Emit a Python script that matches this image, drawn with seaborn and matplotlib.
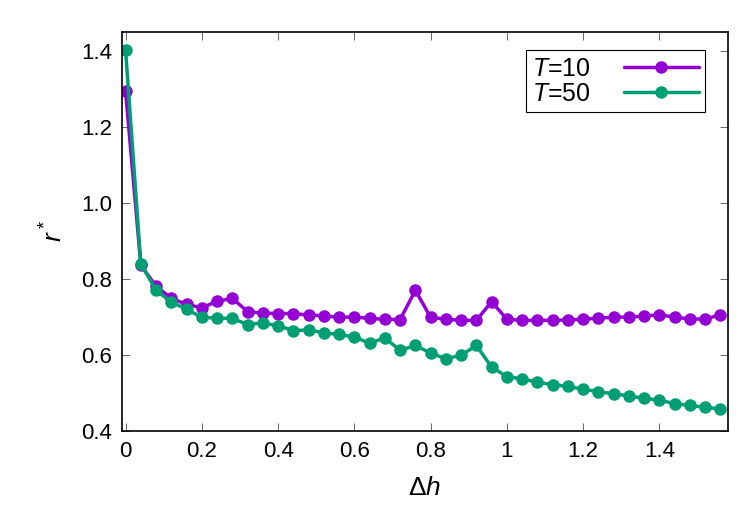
import numpy as np
import pandas as pd
import matplotlib
matplotlib.use("Agg")
import matplotlib.pyplot as plt
import seaborn as sns
from matplotlib.ticker import FuncFormatter

# ---- data ----
dh = [round(0.04 * i, 2) for i in range(40)]

r_T10 = [1.294, 0.836, 0.781, 0.749, 0.733, 0.724, 0.741, 0.749, 0.714, 0.710,
         0.709, 0.709, 0.705, 0.703, 0.699, 0.700, 0.696, 0.694, 0.693, 0.770,
         0.699, 0.694, 0.691, 0.691, 0.740, 0.694, 0.691, 0.691, 0.691, 0.692,
         0.694, 0.697, 0.699, 0.700, 0.702, 0.706, 0.699, 0.695, 0.694, 0.706]

r_T50 = [1.402, 0.840, 0.770, 0.739, 0.720, 0.699, 0.697, 0.696, 0.680, 0.684,
         0.677, 0.664, 0.666, 0.658, 0.654, 0.647, 0.631, 0.645, 0.612, 0.625,
         0.605, 0.590, 0.599, 0.625, 0.568, 0.543, 0.537, 0.528, 0.522, 0.517,
         0.510, 0.503, 0.498, 0.492, 0.486, 0.481, 0.472, 0.467, 0.462, 0.458]

series_names = ["T=10", "T=50"]
series_labels = ["$T$=10", "$T$=50"]
colors = ["#9400D3", "#009E73"]

df = pd.DataFrame({
    "dh": dh + dh,
    "r": r_T10 + r_T50,
    "T": [series_names[0]] * len(dh) + [series_names[1]] * len(dh),
})

# ---- style ----
sns.set_theme(style="ticks")
plt.rcParams["font.family"] = ["Liberation Sans", "DejaVu Sans"]
plt.rcParams["mathtext.fontset"] = "custom"
plt.rcParams["mathtext.rm"] = "Liberation Sans"
plt.rcParams["mathtext.it"] = "Liberation Sans:italic"
plt.rcParams["mathtext.bf"] = "Liberation Sans:bold"
plt.rcParams["text.color"] = "black"
plt.rcParams["axes.labelcolor"] = "black"
plt.rcParams["xtick.labelcolor"] = "black"
plt.rcParams["ytick.labelcolor"] = "black"

fig = plt.figure(figsize=(7.47, 5.23), dpi=100)
ax = fig.add_axes([0.163, 0.176, 0.8116, 0.763])

sns.lineplot(data=df, x="dh", y="r", hue="T", hue_order=series_names,
             palette=dict(zip(series_names, colors)), marker="o",
             markersize=9, markeredgewidth=0, linewidth=2.5, ax=ax,
             legend=False)

ax.set_xlim(-0.01, 1.58)
ax.set_ylim(0.4, 1.45)
ax.set_xticks(np.arange(0, 1.41, 0.2))
ax.set_yticks(np.arange(0.4, 1.41, 0.2))
ax.xaxis.set_major_formatter(FuncFormatter(lambda v, p: "%g" % round(v, 2)))
ax.yaxis.set_major_formatter(FuncFormatter(lambda v, p: "%.1f" % v))
ax.tick_params(direction="in", length=6, width=0.7, color="#666666",
               top=True, right=True, labelsize=16, pad=7)
for s in ax.spines.values():
    s.set_linewidth(1.2)
    s.set_color("black")

ax.set_xlabel(r"$\Delta h$", fontsize=19, labelpad=10)
ax.set_ylabel(r"$r^*$", fontsize=19, labelpad=10)

handles = [plt.Line2D([], [], color=c, marker="o", markersize=9,
                      markeredgewidth=0, linewidth=2.5) for c in colors]
leg = ax.legend(handles, series_labels, loc="upper right",
                bbox_to_anchor=(0.962, 0.954), borderaxespad=0, fontsize=18,
                markerfirst=False, handlelength=3.0, fancybox=False,
                framealpha=1, edgecolor="black",
                labelspacing=0.05, handletextpad=1.3, borderpad=0.25)
leg.get_frame().set_linewidth(0.8)

fig.savefig("out.png", dpi=100)
